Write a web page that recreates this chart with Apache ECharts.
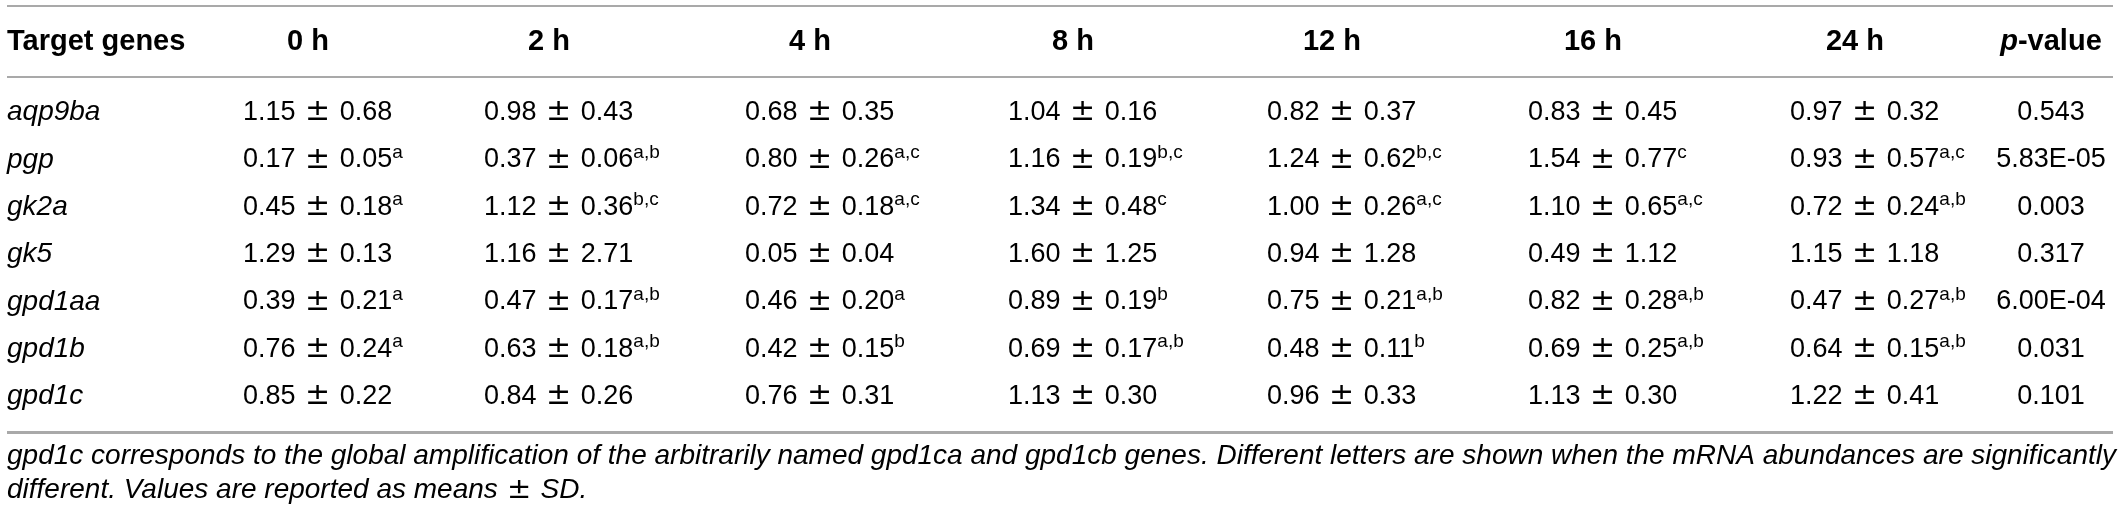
<!DOCTYPE html>
<html>
<head>
<meta charset="utf-8">
<title>Target genes mRNA abundance</title>
<script src="https://cdn.jsdelivr.net/npm/echarts@6/dist/echarts.min.js"></script>
<style>
  html, body { margin: 0; padding: 0; background: #fff; }
  #main { width: 2120px; height: 518px; }
</style>
</head>
<body>
<div id="main"></div>
<script>
// table data
var genes = ['aqp9ba', 'pgp', 'gk2a', 'gk5', 'gpd1aa', 'gpd1b', 'gpd1c'];
var timeLabels = ['0 h', '2 h', '4 h', '8 h', '12 h', '16 h', '24 h'];

var aqp9baMean = [1.15, 0.98, 0.68, 1.04, 0.82, 0.83, 0.97];
var pgpMean    = [0.17, 0.37, 0.80, 1.16, 1.24, 1.54, 0.93];
var gk2aMean   = [0.45, 1.12, 0.72, 1.34, 1.00, 1.10, 0.72];
var gk5Mean    = [1.29, 1.16, 0.05, 1.60, 0.94, 0.49, 1.15];
var gpd1aaMean = [0.39, 0.47, 0.46, 0.89, 0.75, 0.82, 0.47];
var gpd1bMean  = [0.76, 0.63, 0.42, 0.69, 0.48, 0.69, 0.64];
var gpd1cMean  = [0.85, 0.84, 0.76, 1.13, 0.96, 1.13, 1.22];

var aqp9baSd = [0.68, 0.43, 0.35, 0.16, 0.37, 0.45, 0.32];
var pgpSd    = [0.05, 0.06, 0.26, 0.19, 0.62, 0.77, 0.57];
var gk2aSd   = [0.18, 0.36, 0.18, 0.48, 0.26, 0.65, 0.24];
var gk5Sd    = [0.13, 2.71, 0.04, 1.25, 1.28, 1.12, 1.18];
var gpd1aaSd = [0.21, 0.17, 0.20, 0.19, 0.21, 0.28, 0.27];
var gpd1bSd  = [0.24, 0.18, 0.15, 0.17, 0.11, 0.25, 0.15];
var gpd1cSd  = [0.22, 0.26, 0.31, 0.30, 0.33, 0.30, 0.41];

// significance letters
var aqp9baSig = ['', '', '', '', '', '', ''];
var pgpSig    = ['a', 'a,b', 'a,c', 'b,c', 'b,c', 'c', 'a,c'];
var gk2aSig   = ['a', 'b,c', 'a,c', 'c', 'a,c', 'a,c', 'a,b'];
var gk5Sig    = ['', '', '', '', '', '', ''];
var gpd1aaSig = ['a', 'a,b', 'a', 'b', 'a,b', 'a,b', 'a,b'];
var gpd1bSig  = ['a', 'a,b', 'b', 'a,b', 'b', 'a,b', 'a,b'];
var gpd1cSig  = ['', '', '', '', '', '', ''];

var pValues = ['0.543', '5.83E-05', '0.003', '0.317', '6.00E-04', '0.031', '0.101'];

var footnote1 = 'gpd1c corresponds to the global amplification of the arbitrarily named gpd1ca and gpd1cb genes. Different letters are shown when the mRNA abundances are significantly';
var footnote2a = 'different. Values are reported as means';
var footnote2b = 'SD.';

var means = [aqp9baMean, pgpMean, gk2aMean, gk5Mean, gpd1aaMean, gpd1bMean, gpd1cMean];
var sds = [aqp9baSd, pgpSd, gk2aSd, gk5Sd, gpd1aaSd, gpd1bSd, gpd1cSd];
var sigs = [aqp9baSig, pgpSig, gk2aSig, gk5Sig, gpd1aaSig, gpd1bSig, gpd1cSig];

// layout (px on the hidden x axis)
var geneX = 7;
var timeX = [243, 484, 745, 1008, 1267, 1528, 1790];
var headOffset = 65;
var pX = 2051;

var FONT = '"Liberation Sans", Arial, sans-serif';
var PMFONT = '"DejaVu Sans", sans-serif';
var TXT = '#2f2f2f';
var RULE = '#a9a9a9';

var richBody = {
  v: { fontSize: 27, fontFamily: FONT, color: TXT, lineHeight: 34 },
  pm: { fontSize: 30, fontFamily: PMFONT, color: TXT, lineHeight: 34 },
  i: { fontSize: 28, fontFamily: FONT, fontStyle: 'italic', color: TXT, lineHeight: 34 },
  s: { fontSize: 19, fontFamily: FONT, color: TXT, lineHeight: 18, verticalAlign: 'top' }
};
var richHead = {
  b: { fontSize: 29, fontFamily: FONT, fontWeight: 'bold', color: '#1a1a1a', lineHeight: 34 },
  bi: { fontSize: 29, fontFamily: FONT, fontWeight: 'bold', fontStyle: 'italic', color: '#1a1a1a', lineHeight: 34 }
};

// build body cells
var bodyCells = [];
genes.forEach(function (g, r) {
  bodyCells.push({ value: [geneX, g], text: '{i|' + g + '}', align: 'left' });
  timeLabels.forEach(function (t, c) {
    var txt = '{v|' + means[r][c].toFixed(2) + '}{pm| \u00b1 }{v|' + sds[r][c].toFixed(2) + '}';
    if (sigs[r][c]) txt += '{s|' + sigs[r][c] + '}';
    bodyCells.push({ value: [timeX[c], g], text: txt, align: 'left' });
  });
  bodyCells.push({ value: [pX, g], text: '{v|' + pValues[r] + '}', align: 'center' });
});

var headCells = [{ value: [geneX, 'head'], text: '{b|Target genes}', align: 'left' }];
timeLabels.forEach(function (t, c) {
  headCells.push({ value: [timeX[c] + headOffset, 'head'], text: '{b|' + t + '}', align: 'center' });
});
headCells.push({ value: [pX, 'head'], text: '{bi|p}{b|-value}', align: 'center' });

function cellRenderer(cells, rich) {
  return function (params, api) {
    var cell = cells[params.dataIndex];
    var p = api.coord([api.value(0), api.value(1)]);
    return {
      type: 'text',
      x: p[0],
      y: p[1],
      style: {
        text: cell.text,
        rich: rich,
        align: cell.align,
        verticalAlign: 'middle'
      }
    };
  };
}

var chart = echarts.init(document.getElementById('main'), null, { renderer: 'canvas' });

chart.setOption({
  backgroundColor: '#fff',
  animation: false,
  grid: [
    { left: 0, right: 0, top: 89, height: 331 },
    { left: 0, right: 0, top: 18, height: 48 }
  ],
  xAxis: [
    { type: 'value', gridIndex: 0, min: 0, max: 2120, show: false },
    { type: 'value', gridIndex: 1, min: 0, max: 2120, show: false }
  ],
  yAxis: [
    { type: 'category', gridIndex: 0, data: genes, inverse: true, show: false },
    { type: 'category', gridIndex: 1, data: ['head'], show: false }
  ],
  graphic: [
    { type: 'rect', shape: { x: 7, y: 5, width: 2106, height: 2 }, style: { fill: RULE } },
    { type: 'rect', shape: { x: 7, y: 76, width: 2106, height: 2 }, style: { fill: RULE } },
    { type: 'rect', shape: { x: 7, y: 431, width: 2106, height: 3 }, style: { fill: RULE } },
    {
      type: 'text', left: 7, top: 442,
      style: {
        text: '{f|' + footnote1 + '}\n{f|' + footnote2a + '}{pm| \u00b1 }{f|' + footnote2b + '}',
        rich: {
          f: { fontSize: 28, fontFamily: FONT, fontStyle: 'italic', color: TXT, lineHeight: 34 },
          pm: { fontSize: 29, fontFamily: PMFONT, color: TXT, lineHeight: 34 }
        }
      }
    }
  ],
  series: [
    {
      type: 'custom',
      xAxisIndex: 0, yAxisIndex: 0,
      data: bodyCells,
      renderItem: cellRenderer(bodyCells, richBody)
    },
    {
      type: 'custom',
      xAxisIndex: 1, yAxisIndex: 1,
      data: headCells,
      renderItem: cellRenderer(headCells, richHead)
    }
  ]
});
</script>
</body>
</html>
